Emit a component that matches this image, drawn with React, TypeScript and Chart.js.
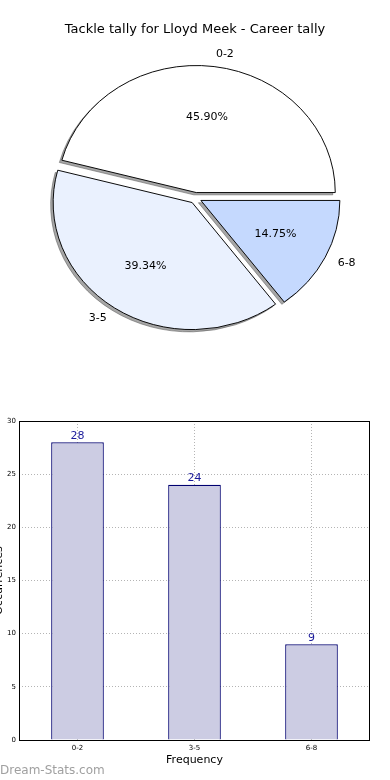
import React, { useEffect, useRef } from 'react';
import { Chart, registerables } from 'chart.js';

Chart.register(...registerables);

const TITLE = 'Tackle tally for Lloyd Meek - Career tally';
const CATEGORIES = ['0-2', '3-5', '6-8'];
const COUNTS = [28, 24, 9];
const PIE_COLORS = ['#ffffff', '#eaf1fe', '#c5d9fe'];
const Y_TICK_STEP = 5;
const Y_MAX = 30;
const X_TITLE = 'Frequency';
const Y_TITLE = 'Occurrences';
const WATERMARK = 'Dream-Stats.com';

const FONT = "'DejaVu Sans', sans-serif";
const SY = 0.914; // vertical squash of the pie (matplotlib non-equal aspect)
const EXPLODE = 6;
const SHADOW = 'rgba(77,77,77,0.5)';
const SH_X = -2.5;
const SH_Y = 2.5;
const BAR_FILL = '#cccce3';
const BAR_EDGE = '#000070';
const GRID = '#b4b4b4';
const VALUE_COLOR = '#1a1a9a';

// pie is drawn clockwise from east in Chart.js; matplotlib goes counter-clockwise,
// so reverse the order of the slices.
const PIE_LABELS = [...CATEGORIES].reverse();
const PIE_VALUES = [...COUNTS].reverse();
const PIE_FILLS = [...PIE_COLORS].reverse();

const piePlugin = {
  id: 'pieDecor',
  beforeDatasetsDraw(chart: any) {
    const ctx = chart.ctx;
    const arcs = chart.getDatasetMeta(0).data;
    if (!arcs.length) return;
    const cx = arcs[0].x;
    const cy = arcs[0].y;
    ctx.save();
    ctx.translate(cx, cy);
    ctx.scale(1, SY);
    ctx.translate(-cx, -cy);
    // shadows
    arcs.forEach((el: any) => {
      const h = (el.startAngle + el.endAngle) / 2;
      ctx.save();
      ctx.translate(Math.cos(h) * EXPLODE + SH_X, Math.sin(h) * EXPLODE + SH_Y);
      const o = el.options;
      el.options = Object.assign({}, o, { backgroundColor: SHADOW, borderColor: SHADOW });
      el.draw(ctx);
      el.options = o;
      ctx.restore();
    });
    // wedges
    arcs.forEach((el: any) => {
      const h = (el.startAngle + el.endAngle) / 2;
      ctx.save();
      ctx.translate(Math.cos(h) * EXPLODE, Math.sin(h) * EXPLODE);
      el.draw(ctx);
      ctx.restore();
    });
    ctx.restore();
    return false;
  },
  afterDraw(chart: any) {
    const ctx = chart.ctx;
    const arcs = chart.getDatasetMeta(0).data;
    const total = PIE_VALUES.reduce((a, b) => a + b, 0);
    ctx.save();
    ctx.fillStyle = '#000';
    ctx.textBaseline = 'middle';
    ctx.textAlign = 'center';
    ctx.font = `13px ${FONT}`;
    ctx.fillText(TITLE, 195, 30);
    ctx.font = `11px ${FONT}`;
    arcs.forEach((el: any, i: number) => {
      const h = (el.startAngle + el.endAngle) / 2;
      const c = Math.cos(h);
      const s = Math.sin(h);
      const ex = el.x + c * EXPLODE;
      const ey = el.y + s * EXPLODE * SY;
      const r = el.outerRadius;
      ctx.textAlign = c > 0 ? 'left' : 'right';
      ctx.fillText(PIE_LABELS[i], ex + 1.1 * r * c, ey + 1.1 * r * s * SY);
      ctx.textAlign = 'center';
      ctx.fillText(((PIE_VALUES[i] / total) * 100).toFixed(2) + '%', ex + 0.6 * r * c, ey + 0.6 * r * s * SY);
    });
    ctx.restore();
  },
};

const barPlugin = {
  id: 'barDecor',
  afterDraw(chart: any) {
    const ctx = chart.ctx;
    const a = chart.chartArea;
    ctx.save();
    // frame
    ctx.strokeStyle = '#000';
    ctx.lineWidth = 1;
    ctx.strokeRect(Math.round(a.left) + 0.5, Math.round(a.top) + 0.5, Math.round(a.right - a.left) - 1, Math.round(a.bottom - a.top));
    // value labels
    const meta = chart.getDatasetMeta(0);
    ctx.fillStyle = VALUE_COLOR;
    ctx.font = `11px ${FONT}`;
    ctx.textAlign = 'center';
    ctx.textBaseline = 'bottom';
    meta.data.forEach((el: any, i: number) => {
      ctx.fillText(String(COUNTS[i]), el.x, el.y - 1);
    });
    // axis titles
    ctx.fillStyle = '#000';
    ctx.textBaseline = 'middle';
    ctx.fillText(X_TITLE, (a.left + a.right) / 2, 360);
    ctx.save();
    ctx.translate(2, (a.top + a.bottom) / 2);
    ctx.rotate(-Math.PI / 2);
    ctx.textBaseline = 'alphabetic';
    ctx.fillText(Y_TITLE, 0, 0);
    ctx.restore();
    // watermark
    ctx.fillStyle = '#a0a0a0';
    ctx.font = `12px ${FONT}`;
    ctx.textAlign = 'left';
    ctx.textBaseline = 'middle';
    ctx.fillText(WATERMARK, 0, 371);
    ctx.restore();
  },
};

export default function App() {
  const pieRef = useRef<HTMLCanvasElement>(null);
  const barRef = useRef<HTMLCanvasElement>(null);

  useEffect(() => {
    const pie = new Chart(pieRef.current as HTMLCanvasElement, {
      type: 'pie',
      data: {
        labels: PIE_LABELS,
        datasets: [
          {
            data: PIE_VALUES,
            backgroundColor: PIE_FILLS,
            borderColor: '#000',
            borderWidth: 1,
            offset: 0,
            hoverOffset: 0,
            borderJoinStyle: 'miter',
          } as any,
        ],
      },
      options: {
        animation: false,
        responsive: false,
        events: [],
        rotation: 90,
        radius: 139,
        layout: { padding: { left: 1, right: 0, top: 0, bottom: 4 } },
        plugins: { legend: { display: false }, tooltip: { enabled: false }, title: { display: false } },
      } as any,
      plugins: [piePlugin],
    });

    const tickFont = { size: 7, family: FONT };
    const bar = new Chart(barRef.current as HTMLCanvasElement, {
      type: 'bar',
      data: {
        labels: CATEGORIES,
        datasets: [
          {
            data: COUNTS,
            backgroundColor: BAR_FILL,
            borderColor: BAR_EDGE,
            borderWidth: 1.2,
            barPercentage: 0.45,
            categoryPercentage: 1,
          },
        ],
      },
      options: {
        animation: false,
        responsive: false,
        events: [],
        layout: { padding: { top: 21, right: 20, left: 0, bottom: 0 } },
        plugins: { legend: { display: false }, tooltip: { enabled: false } },
        scales: {
          x: {
            z: 1,
            grid: { offset: false, color: GRID, lineWidth: 1, drawTicks: false },
            border: { display: false, dash: [1, 2] },
            ticks: { font: tickFont, color: '#000', padding: 4 },
            afterFit: (s: any) => {
              s.height = 40;
            },
          },
          y: {
            z: 1,
            min: 0,
            max: Y_MAX,
            grid: { color: GRID, lineWidth: 1, drawTicks: false },
            border: { display: false, dash: [1, 2] },
            ticks: { stepSize: Y_TICK_STEP, font: tickFont, color: '#000', padding: 3 },
            afterFit: (s: any) => {
              s.width = 19;
            },
          },
        },
      } as any,
      plugins: [barPlugin],
    });

    return () => {
      pie.destroy();
      bar.destroy();
    };
  }, []);

  return (
    <div style={{ position: 'absolute', left: 0, top: 0, width: 390, height: 780, background: '#fff' }}>
      <canvas ref={pieRef} width={390} height={400} style={{ position: 'absolute', left: 0, top: 0, display: 'block' }} />
      <canvas ref={barRef} width={390} height={380} style={{ position: 'absolute', left: 0, top: 400, display: 'block' }} />
    </div>
  );
}
